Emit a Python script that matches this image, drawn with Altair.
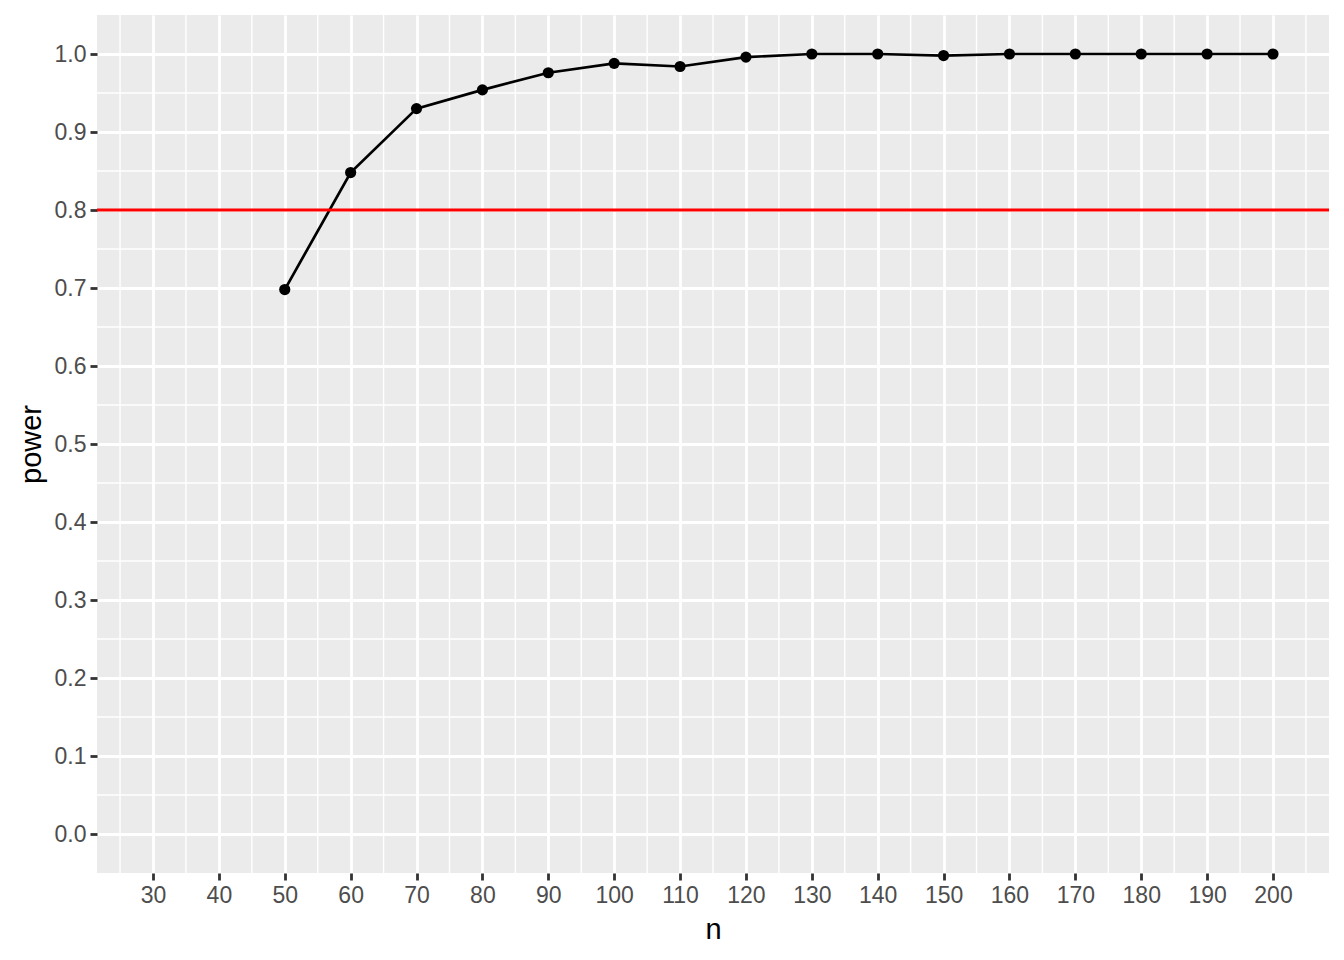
import altair as alt
import pandas as pd

# data
n_vals = [50, 60, 70, 80, 90, 100, 110, 120, 130, 140, 150, 160, 170, 180, 190, 200]
power_vals = [0.698, 0.848, 0.930, 0.954, 0.976, 0.988, 0.984, 0.996, 1.000, 1.000,
              0.998, 1.000, 1.000, 1.000, 1.000, 1.000]
x_ticks = list(range(30, 201, 10))
x_minor = list(range(25, 206, 10))
y_ticks = [round(i * 0.1, 1) for i in range(11)]
y_minor = [round(0.05 + i * 0.1, 2) for i in range(10)]
threshold = [0.8]

df = pd.DataFrame({"n": n_vals, "power": power_vals})
df_xminor = pd.DataFrame({"n": x_minor})
df_yminor = pd.DataFrame({"power": y_minor})
df_thr = pd.DataFrame({"power": threshold})

xscale = alt.Scale(domain=[21.5, 208.5], nice=False, zero=False)
yscale = alt.Scale(domain=[-0.05, 1.05], nice=False, zero=False)

xaxis = alt.Axis(values=x_ticks, title="n", format="d")
yaxis = alt.Axis(values=y_ticks, title="power", format=".1f")

X = alt.X("n:Q", scale=xscale, axis=xaxis)
Y = alt.Y("power:Q", scale=yscale, axis=yaxis)

minor_x = alt.Chart(df_xminor).mark_rule(color="white", strokeWidth=1.4).encode(x=X)
minor_y = alt.Chart(df_yminor).mark_rule(color="white", strokeWidth=1.4).encode(y=Y)
hline = alt.Chart(df_thr).mark_rule(color="#FF0000", strokeWidth=2.8).encode(y=Y)
line = alt.Chart(df).mark_line(color="black", strokeWidth=2.7).encode(x=X, y=Y)
points = alt.Chart(df).mark_point(filled=True, color="black", size=125, opacity=1).encode(x=X, y=Y)

chart = alt.layer(minor_x, minor_y, line, points, hline).properties(
    width=1232,
    height=858,
    autosize=alt.AutoSizeParams(type="none"),
    padding={"left": 89, "top": 7, "right": 6, "bottom": 70},
    background="white",
).configure_view(
    fill="#EBEBEB", stroke=None
).configure_axis(
    grid=True,
    gridColor="white",
    gridWidth=2.8,
    domain=False,
    tickColor="#333333",
    tickWidth=2.8,
    tickSize=7,
    labelColor="#4D4D4D",
    labelFont="Liberation Sans",
    labelFontSize=23,
    labelPadding=4,
    titleFont="Liberation Sans",
    titleFontSize=29,
    titleFontWeight="normal",
    titleColor="black",
).configure_axisX(titlePadding=8).configure_axisY(titlePadding=8)

chart.save("out.html", embed_options={"renderer": "svg", "actions": False})
